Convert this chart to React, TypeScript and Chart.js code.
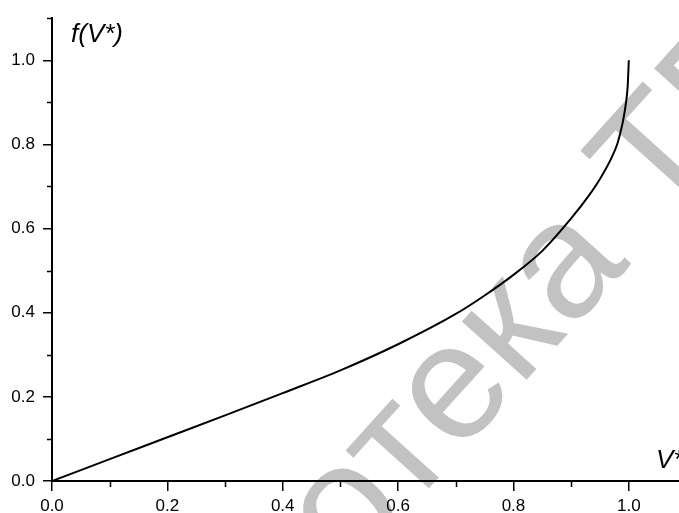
import React, { useEffect, useRef } from "react";
import { Chart, registerables } from "chart.js";

Chart.register(...registerables);

const V_VALUES = [0, 0.1, 0.2, 0.3, 0.4, 0.5, 0.6, 0.7, 0.75, 0.8, 0.85, 0.9, 0.93, 0.95, 0.97, 0.98, 0.985, 0.99, 0.995, 0.998, 1.0];
const F_VALUES = [0, 0.052, 0.104, 0.156, 0.209, 0.263, 0.325, 0.397, 0.441, 0.49, 0.547, 0.624, 0.677, 0.718, 0.768, 0.801, 0.826, 0.856, 0.898, 0.938, 1.0];

const X_MAJOR_TICKS = [0, 0.2, 0.4, 0.6, 0.8, 1.0];
const X_MINOR_TICKS = [0.1, 0.3, 0.5, 0.7, 0.9];
const Y_MAJOR_TICKS = [0, 0.2, 0.4, 0.6, 0.8, 1.0];
const Y_MINOR_TICKS = [0.1, 0.3, 0.5, 0.7, 0.9, 1.1];
const X_MIN = 0;
const X_MAX = 1.087;
const Y_MIN = 0;
const Y_MAX = 1.1;

const Y_TITLE = "f(V*)";
const X_TITLE = "V*";
const WATERMARK = "Библиотека ТГТУ";

const FONT = '"Liberation Sans", Arial, sans-serif';

export default function App() {
  const canvasRef = useRef<HTMLCanvasElement | null>(null);

  useEffect(() => {
    const canvas = canvasRef.current;
    if (!canvas) return;

    const watermarkPlugin = {
      id: "watermark",
      beforeDraw(chart: any) {
        const ctx = chart.ctx;
        ctx.save();
        const fs = 165;
        ctx.font = `${fs}px ${FONT}`;
        ctx.fillStyle = "#c2c2c2";
        const prefix = "Библиот";
        const w1 = ctx.measureText(prefix).width;
        const we = ctx.measureText("е").width;
        const px = w1 + we / 2;
        const py = -0.26 * fs;
        const a = (-48 * Math.PI) / 180;
        const tx = 458, ty = 392;
        const rx = px * Math.cos(a) - py * Math.sin(a);
        const ry = px * Math.sin(a) + py * Math.cos(a);
        ctx.translate(tx - rx, ty - ry);
        ctx.rotate(a);
        ctx.textBaseline = "alphabetic";
        ctx.textAlign = "left";
        ctx.fillText(WATERMARK, 0, 0);
        ctx.restore();
      },
    };

    const decorPlugin = {
      id: "decor",
      afterDraw(chart: any) {
        const ctx = chart.ctx;
        const xs = chart.scales.x;
        const ys = chart.scales.y;
        ctx.save();
        ctx.strokeStyle = "#000";
        ctx.lineWidth = 1.5;
        ctx.beginPath();
        for (const v of X_MINOR_TICKS) {
          const p = Math.round(xs.getPixelForValue(v)) + 0.5;
          ctx.moveTo(p, xs.top);
          ctx.lineTo(p, xs.top + 6);
        }
        for (const v of Y_MINOR_TICKS) {
          const p = Math.round(ys.getPixelForValue(v)) + 0.5;
          ctx.moveTo(ys.right, p);
          ctx.lineTo(ys.right - 5, p);
        }
        ctx.stroke();

        ctx.fillStyle = "#000";
        ctx.font = `italic 26px ${FONT}`;
        ctx.textBaseline = "alphabetic";
        ctx.textAlign = "left";
        ctx.fillText(Y_TITLE, 71, 42);
        ctx.fillText(X_TITLE, 656, 468);
        ctx.restore();
      },
    };

    const chart = new Chart(canvas, {
      type: "line",
      data: {
        datasets: [
          {
            data: V_VALUES.map((v, i) => ({ x: v, y: F_VALUES[i] })),
            borderColor: "#000",
            borderWidth: 2,
            pointRadius: 0,
            fill: false,
            cubicInterpolationMode: "monotone",
          },
        ],
      },
      options: {
        animation: false,
        responsive: false,
        maintainAspectRatio: false,
        devicePixelRatio: 1,
        layout: { padding: { top: 15, right: 0, left: 0, bottom: 0 } },
        plugins: {
          legend: { display: false },
          tooltip: { enabled: false },
          title: { display: false },
        },
        scales: {
          x: {
            type: "linear",
            position: "bottom",
            min: X_MIN,
            max: X_MAX,
            afterBuildTicks: (scale: any) => {
              scale.ticks = X_MAJOR_TICKS.map((v) => ({ value: v }));
            },
            afterFit: (scale: any) => {
              scale.height = 32;
            },
            grid: {
              display: true,
              drawOnChartArea: false,
              drawTicks: true,
              tickLength: 10,
              color: "#000",
              lineWidth: 1.5,
            },
            border: { display: true, color: "#000", width: 2 },
            ticks: {
              color: "#000",
              font: { family: FONT, size: 17 },
              padding: 5,
              maxRotation: 0,
              autoSkip: false,
              callback: (v: any) => Number(v).toFixed(1),
            },
          },
          y: {
            type: "linear",
            position: "left",
            min: Y_MIN,
            max: Y_MAX,
            afterBuildTicks: (scale: any) => {
              scale.ticks = Y_MAJOR_TICKS.map((v) => ({ value: v }));
            },
            afterFit: (scale: any) => {
              scale.width = 52;
            },
            grid: {
              display: true,
              drawOnChartArea: false,
              drawTicks: true,
              tickLength: 9,
              color: "#000",
              lineWidth: 1.5,
            },
            border: { display: true, color: "#000", width: 2 },
            ticks: {
              color: "#000",
              font: { family: FONT, size: 17 },
              padding: 8,
              autoSkip: false,
              callback: (v: any) => Number(v).toFixed(1),
            },
          },
        },
      },
      plugins: [watermarkPlugin, decorPlugin],
    } as any);

    return () => {
      chart.destroy();
    };
  }, []);

  return (
    <div style={{ position: "absolute", left: 0, top: 0, width: 679, height: 513, background: "#fff" }}>
      <canvas ref={canvasRef} width={679} height={513} style={{ display: "block" }} />
    </div>
  );
}
